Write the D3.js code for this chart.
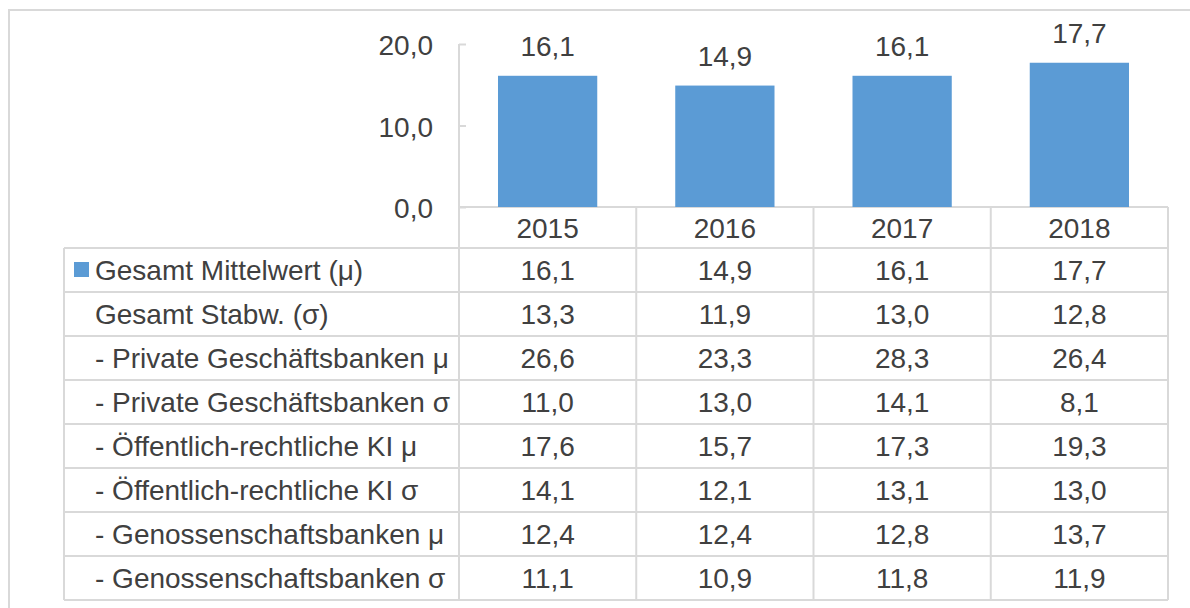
<!DOCTYPE html>
<html>
<head>
<meta charset="utf-8">
<script src="https://cdn.jsdelivr.net/npm/d3@7"></script>
<style>
  body { margin: 0; background: #fff; }
  text { font-family: "Liberation Sans", Arial, sans-serif; fill: #404040; }
</style>
</head>
<body>
<svg id="theSvg"></svg>
<script>
// data
const years = ["2015", "2016", "2017", "2018"];
const rowLabels = [
  "Gesamt Mittelwert (μ)",
  "Gesamt Stabw. (σ)",
  "- Private Geschäftsbanken μ",
  "- Private Geschäftsbanken σ",
  "- Öffentlich-rechtliche KI μ",
  "- Öffentlich-rechtliche KI σ",
  "- Genossenschaftsbanken μ",
  "- Genossenschaftsbanken σ"
];
const gesamtMean = [16.1, 14.9, 16.1, 17.7];
const gesamtSd = [13.3, 11.9, 13.0, 12.8];
const privatMean = [26.6, 23.3, 28.3, 26.4];
const privatSd = [11.0, 13.0, 14.1, 8.1];
const oeffMean = [17.6, 15.7, 17.3, 19.3];
const oeffSd = [14.1, 12.1, 13.1, 13.0];
const genoMean = [12.4, 12.4, 12.8, 13.7];
const genoSd = [11.1, 10.9, 11.8, 11.9];
const yTicks = [0, 10, 20];

const tableRows = [gesamtMean, gesamtSd, privatMean, privatSd, oeffMean, oeffSd, genoMean, genoSd];

const width = 1190, height = 608;
const grid = "#d9d9d9";
const barColour = "#5b9bd5";
const fontSize = 28;

const de = d3.formatLocale({decimal: ",", thousands: ".", grouping: [3], currency: ["", " €"]});
const fmt = de.format(".1f");

const svg = d3.select("#theSvg")
  .attr("width", width)
  .attr("height", height)
  .attr("viewBox", [0, 0, width, height]);

// chart frame (runs off the picture on right and bottom)
svg.append("rect")
  .attr("x", 9).attr("y", 10)
  .attr("width", 1300).attr("height", 700)
  .attr("fill", "none")
  .attr("stroke", grid)
  .attr("stroke-width", 2);

const plotLeft = 459, plotRight = 1168;
const labelLeft = 64;
const headerTop = 207, headerH = 41, rowH = 44;
const tableBottom = headerTop + headerH + rowH * rowLabels.length;

const xCol = d3.scaleBand().domain(years).range([plotLeft, plotRight]);
const xBar = d3.scaleBand().domain(years).range([plotLeft, plotRight])
  .paddingInner(0.44).paddingOuter(0.22);
const y = d3.scaleLinear().domain([0, 20]).range([headerTop, 44]);

// table grid
const g = svg.append("g")
  .attr("stroke", grid)
  .attr("stroke-width", 2)
  .attr("fill", "none");

g.append("line")
  .attr("x1", plotLeft).attr("x2", plotRight)
  .attr("y1", headerTop).attr("y2", headerTop);

const rowY = i => headerTop + headerH + i * rowH;

d3.range(rowLabels.length + 1).forEach(i => {
  g.append("line")
    .attr("x1", labelLeft).attr("x2", plotRight)
    .attr("y1", rowY(i)).attr("y2", rowY(i));
});

g.append("line")
  .attr("x1", labelLeft).attr("x2", labelLeft)
  .attr("y1", rowY(0)).attr("y2", tableBottom);

years.slice(1).forEach(yr => {
  g.append("line")
    .attr("x1", xCol(yr)).attr("x2", xCol(yr))
    .attr("y1", headerTop).attr("y2", tableBottom);
});
g.append("line")
  .attr("x1", plotRight).attr("x2", plotRight)
  .attr("y1", headerTop).attr("y2", tableBottom);

// y axis
const yAxis = svg.append("g")
  .attr("transform", "translate(" + plotLeft + ",0)")
  .call(d3.axisLeft(y).tickValues(yTicks).tickFormat(fmt).tickSize(-7).tickPadding(26))
  .call(a => a.select(".domain").remove());

yAxis.selectAll(".tick line").attr("stroke", grid).attr("stroke-width", 2);
yAxis.selectAll(".tick text")
  .attr("font-size", fontSize)
  .attr("fill", "#404040")
  .attr("font-family", "Liberation Sans, Arial, sans-serif")
  .attr("dy", "0.39em");

svg.append("line")
  .attr("x1", plotLeft).attr("x2", plotLeft)
  .attr("y1", y(20)).attr("y2", tableBottom)
  .attr("stroke", grid)
  .attr("stroke-width", 2);

// bars
svg.append("g").selectAll("rect")
  .data(gesamtMean)
  .join("rect")
  .attr("x", (d, i) => xBar(years[i]))
  .attr("width", xBar.bandwidth())
  .attr("y", d => y(d))
  .attr("height", d => y(0) - y(d))
  .attr("fill", barColour);

// bar labels
svg.append("g").selectAll("text")
  .data(gesamtMean)
  .join("text")
  .attr("x", (d, i) => xCol(years[i]) + xCol.bandwidth() / 2)
  .attr("y", d => y(d) - 19.5)
  .attr("text-anchor", "middle")
  .attr("font-size", fontSize)
  .text(d => fmt(d));

// header years
svg.append("g").selectAll("text")
  .data(years)
  .join("text")
  .attr("x", d => xCol(d) + xCol.bandwidth() / 2)
  .attr("y", headerTop + headerH / 2 + 10)
  .attr("text-anchor", "middle")
  .attr("font-size", fontSize)
  .text(d => d);

// row labels
svg.append("g").selectAll("text")
  .data(rowLabels)
  .join("text")
  .attr("x", 95)
  .attr("y", (d, i) => rowY(i) + rowH / 2 + 10)
  .attr("font-size", fontSize)
  .text(d => d);

// legend key
svg.append("rect")
  .attr("x", 74)
  .attr("y", rowY(0) + rowH / 2 - 8)
  .attr("width", 15).attr("height", 15)
  .attr("fill", barColour);

// table values
tableRows.forEach((vals, r) => {
  svg.append("g").selectAll("text")
    .data(vals)
    .join("text")
    .attr("x", (d, i) => xCol(years[i]) + xCol.bandwidth() / 2)
    .attr("y", rowY(r) + rowH / 2 + 10)
    .attr("text-anchor", "middle")
    .attr("font-size", fontSize)
    .text(d => fmt(d));
});
</script>
</body>
</html>
